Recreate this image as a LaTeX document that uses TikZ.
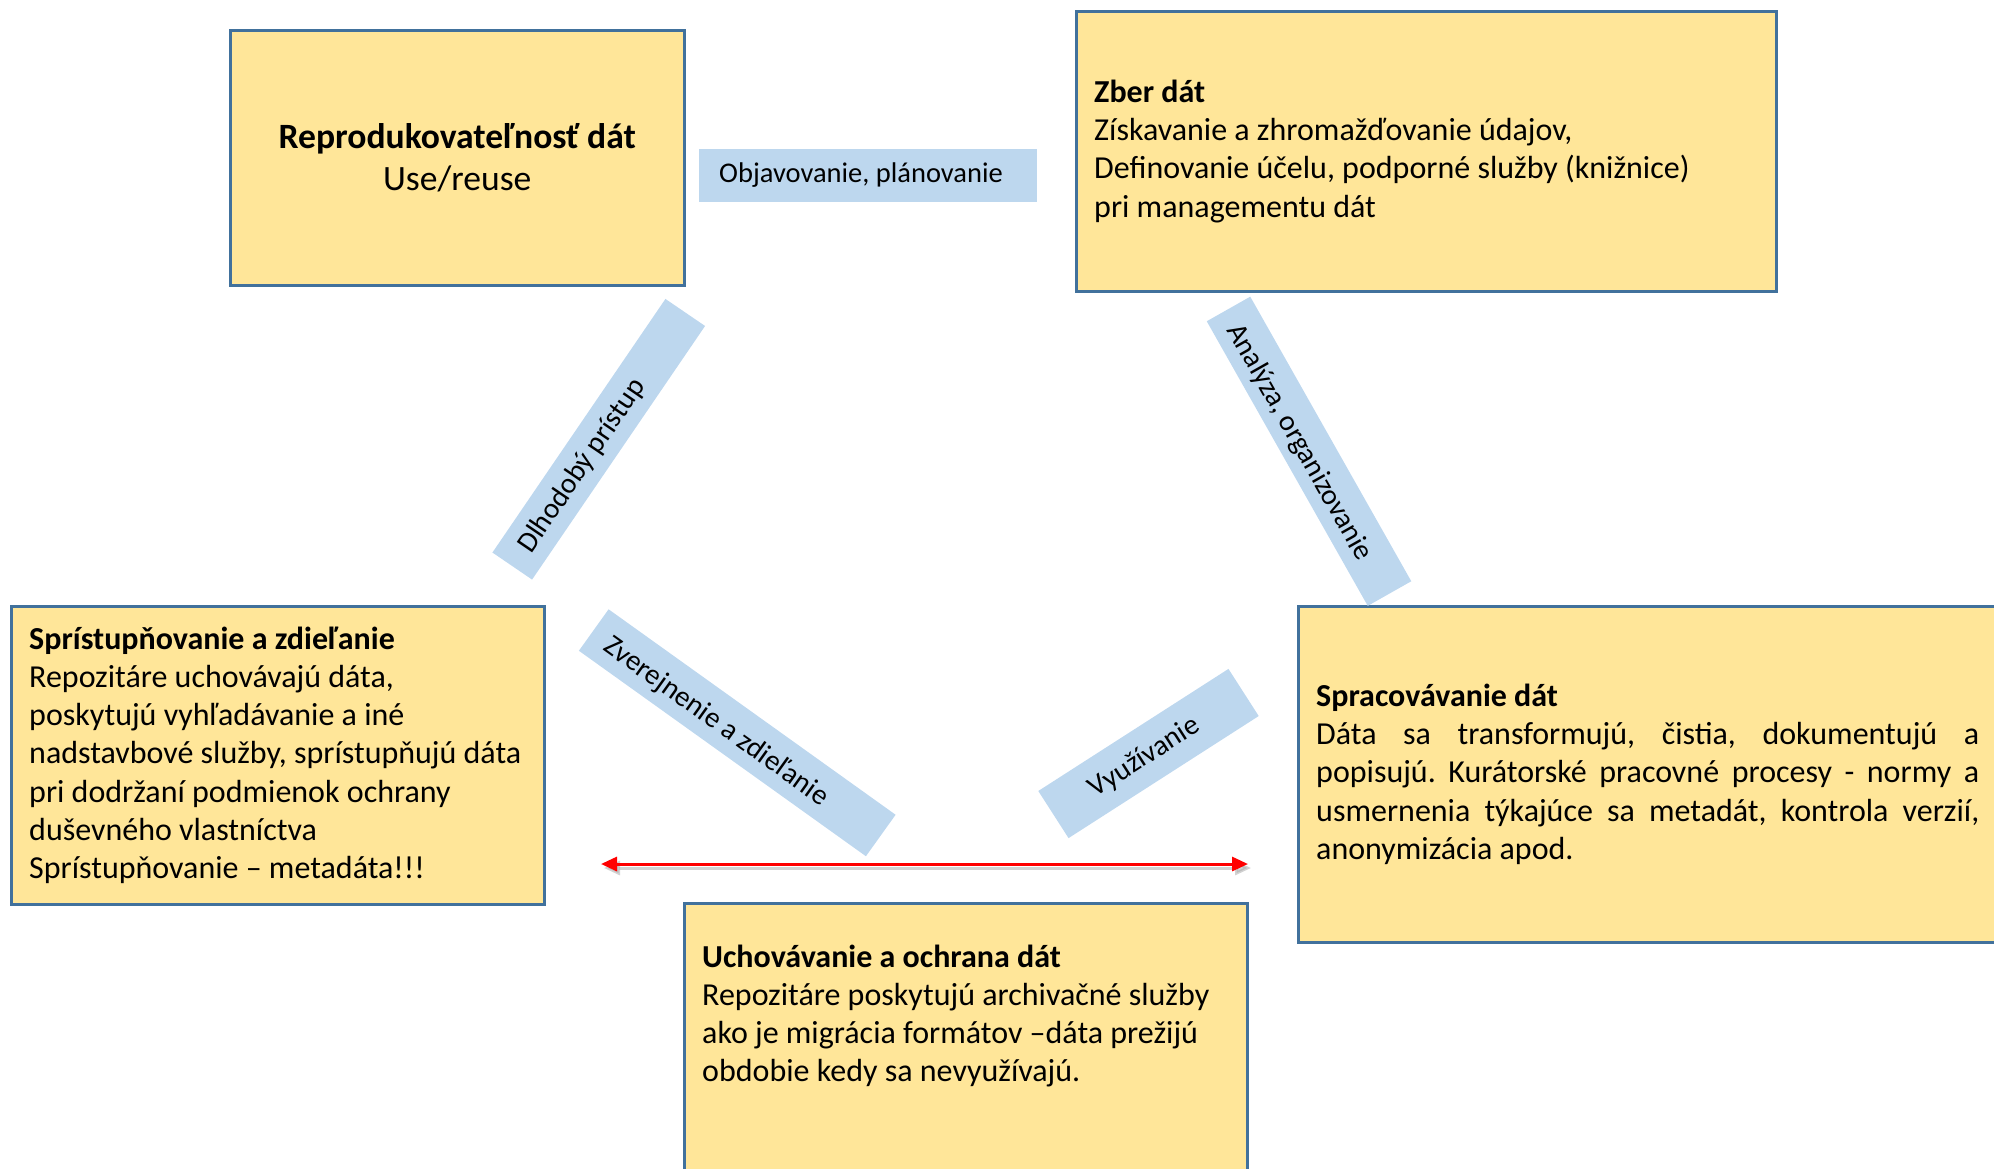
\documentclass[tikz,border=0pt]{standalone}
\usepackage{fontspec}
\setmainfont{Carlito}
\usetikzlibrary{arrows.meta}
\frenchspacing
\definecolor{boxfill}{HTML}{FFE699}
\definecolor{boxline}{HTML}{41719C}
\definecolor{bandfill}{HTML}{BDD7EE}
\tikzset{
  ybox/.style={draw=boxline, fill=boxfill, line width=2.5pt, anchor=north west, inner sep=0pt},
  band/.style={fill=bandfill, draw=none, inner sep=0pt},
  bodytext/.style={align=left, inner sep=0pt, anchor=west, font=\fontsize{32}{38.2}\selectfont},
  bandtext/.style={inner sep=0pt, font=\fontsize{29}{34}\selectfont},
  htext/.style={inner sep=0pt, font=\fontsize{28.5}{34}\selectfont},
  redtips/.style={{Triangle[length=16pt,width=14pt]}-{Triangle[length=16pt,width=14pt]}}
}
\begin{document}
\begin{tikzpicture}[x=1pt,y=-1pt]
\useasboundingbox (0,0) rectangle (1994,1168);
\clip (0,0) rectangle (1994,1168);

% yellow boxes
\node[ybox, minimum width=454pt, minimum height=255pt, align=center,
      font=\fontsize{35.6}{42}\selectfont] (repro) at (229,29)
  {\textbf{Reprodukovateľnosť dát}\\Use/reuse};
\node[ybox, minimum width=700pt, minimum height=280pt] (zber) at (1075,10) {};
\node[ybox, minimum width=533pt, minimum height=298pt] (access) at (10,605) {};
\node[ybox, minimum width=563pt, minimum height=300pt] (store) at (683,902) {};
\node[ybox, minimum width=701pt, minimum height=336pt] (proc) at (1297,605) {};

% box texts
\node[bodytext] (zbertext) at ([xshift=19pt]zber.west)
  {\textbf{Zber dát}\\
   Získavanie a zhromažďovanie údajov,\\
   Definovanie účelu, podporné služby (knižnice)\\
   pri managementu dát};
\node[bodytext] (accesstext) at ([xshift=19pt]access.west)
  {\textbf{Sprístupňovanie a zdieľanie}\\
   Repozitáre uchovávajú dáta,\\
   poskytujú vyhľadávanie a iné\\
   nadstavbové služby, sprístupňujú dáta\\
   pri dodržaní podmienok ochrany\\
   duševného vlastníctva\\
   Sprístupňovanie – metadáta!!!};
\node[bodytext] (storetext) at (702,1016)
  {\textbf{Uchovávanie a ochrana dát}\\
   Repozitáre poskytujú archivačné služby\\
   ako je migrácia formátov –dáta prežijú\\
   obdobie kedy sa nevyužívajú.};
\node[bodytext] (proctext) at ([xshift=19pt]proc.west)
  {\textbf{Spracovávanie dát}\\
   \makebox[663pt][s]{Dáta sa transformujú, čistia, dokumentujú a}\\
   \makebox[663pt][s]{popisujú. Kurátorské pracovné procesy - normy a}\\
   \makebox[663pt][s]{usmernenia týkajúce sa metadát, kontrola verzií,}\\
   anonymizácia apod.};

% blue bands
\node[band, minimum width=338pt, minimum height=53pt] (b0) at (868,175.5) {};
\node[htext] (l0) at (861,175.5) {Objavovanie, plánovanie};

\node[band, minimum width=307pt, minimum height=48pt, rotate=55.7] (b1) at (598.75,439.25) {};
\node[bandtext, rotate=55.7] (l1) at (582,466) {Dlhodobý prístup};

\node[band, minimum width=327pt, minimum height=50pt, rotate=-60.5] (b2) at (1309,451.25) {};
\node[bandtext, rotate=-60.5] (l2) at (1299,442.5) {Analýza, organizovanie};

\node[band, minimum width=353pt, minimum height=51pt, rotate=-35.6] (b3) at (737.25,732.75) {};
\node[bandtext, rotate=-35.6] (l3) at (716,722) {Zverejnenie a zdieľanie};

\node[band, minimum width=226pt, minimum height=56pt, rotate=32.7] (b4) at (1148.5,753.5) {};
\node[bandtext, rotate=32.7] (l4) at (1144.5,757.5) {Využívanie};

% red double arrow with shadow
\coordinate (al) at (601,864);
\coordinate (ar) at (1248,864);
\draw[black!35, opacity=0.5, line width=3pt, redtips,
      transform canvas={xshift=3pt,yshift=-4pt}] (al) -- (ar);
\draw[red, line width=3pt, redtips] (al) -- (ar);
\end{tikzpicture}
\end{document}
